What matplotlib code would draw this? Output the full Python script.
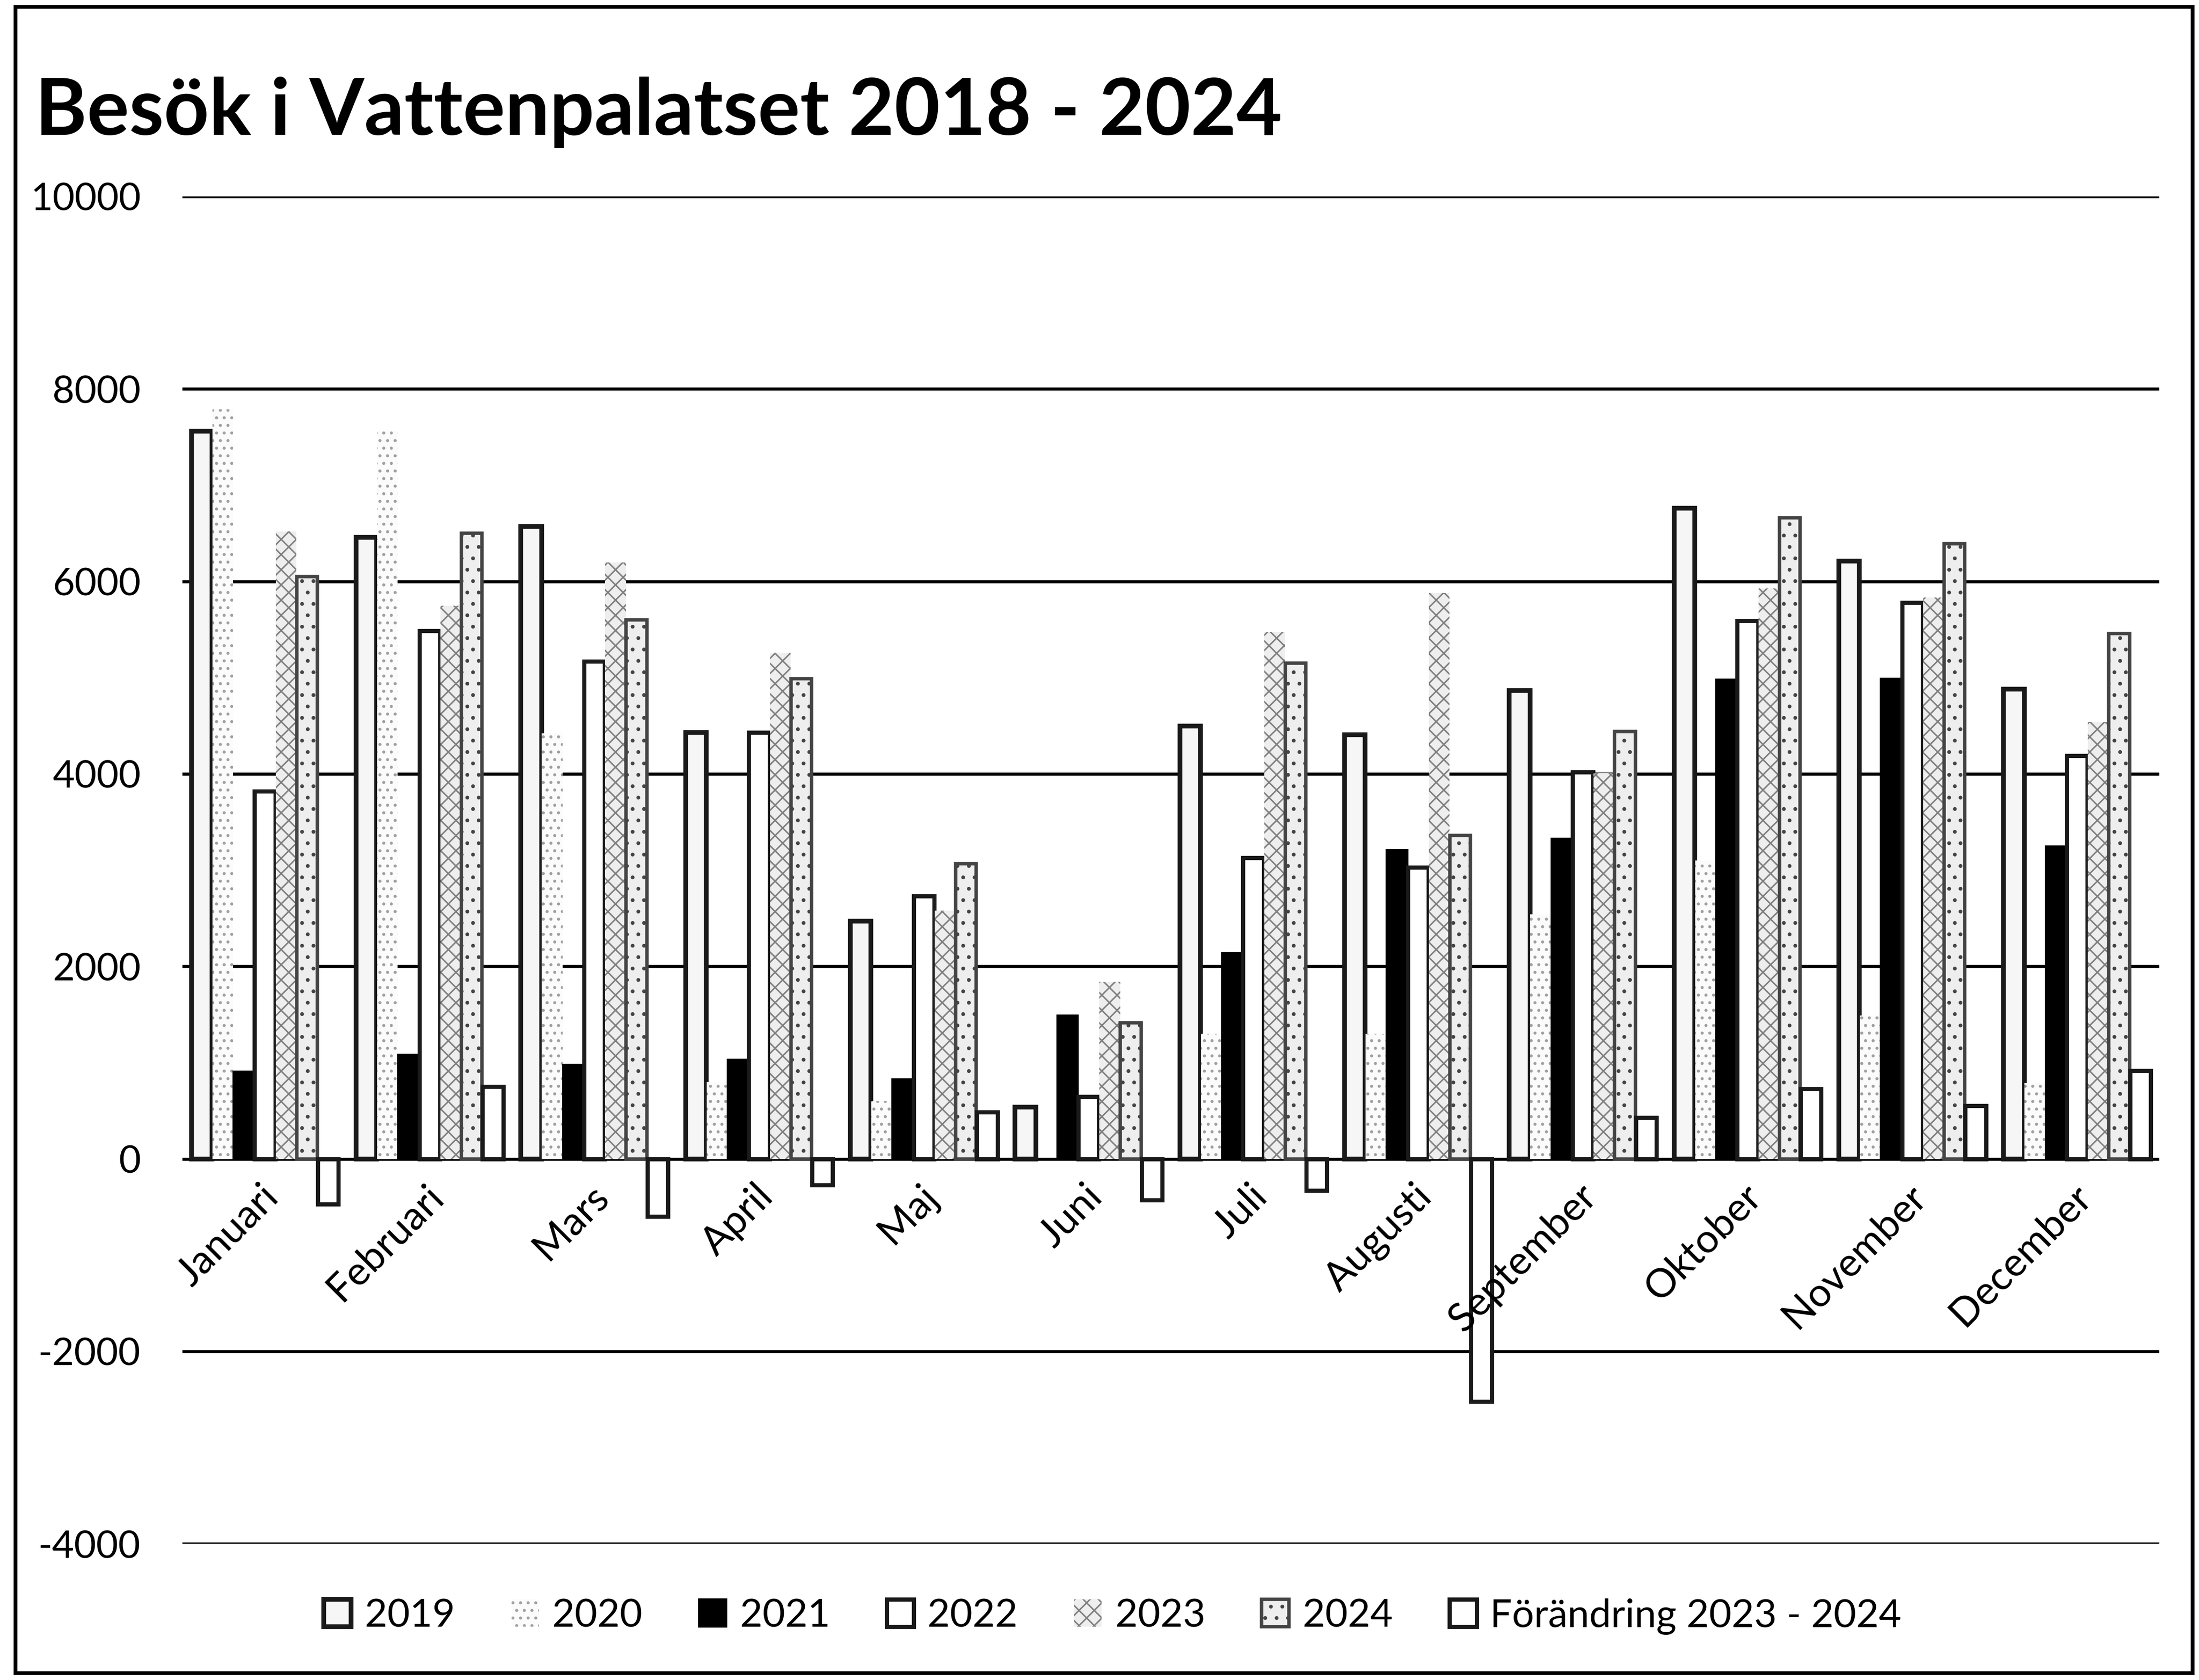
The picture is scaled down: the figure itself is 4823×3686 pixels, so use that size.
import numpy as np
import matplotlib.pyplot as plt
from matplotlib.patches import Rectangle

plt.rcParams['font.family'] = ['Lato', 'DejaVu Sans']
plt.rcParams['axes.unicode_minus'] = False

months = ['Januari', 'Februari', 'Mars', 'April', 'Maj', 'Juni', 'Juli',
          'Augusti', 'September', 'Oktober', 'November', 'December']

# visitors per month
v2019 = [7560, 6460, 6570, 4430, 2470, 540, 4500, 4410, 4865, 6760, 6210, 4880]
v2020 = [7790, 7560, 4420, 800, 600, 0, 1300, 1300, 2540, 3100, 1490, 790]
v2021 = [910, 1085, 980, 1030, 830, 1490, 2140, 3210, 3330, 4980, 4990, 3250]
v2022 = [3820, 5490, 5170, 4430, 2730, 650, 3130, 3030, 4020, 5590, 5780, 4190]
v2023 = [6520, 5750, 6200, 5260, 2580, 1840, 5475, 5880, 4010, 5930, 5835, 4540]
v2024 = [6050, 6500, 5600, 4990, 3070, 1415, 5150, 3360, 4440, 6660, 6390, 5460]
change = [-470, 750, -600, -270, 485, -425, -330, -2520, 430, 730, 555, 920]

series = [('2019', v2019), ('2020', v2020), ('2021', v2021), ('2022', v2022),
          ('2023', v2023), ('2024', v2024), ('Förändring 2023 - 2024', change)]

# grey-scale look of the scanned original
styles = [
    dict(facecolor='#f6f6f6', edgecolor='#1a1a1a', linewidth=2.5),
    dict(facecolor='#fbfbfb', edgecolor='#a0a0a0', linewidth=0, hatch='...'),
    dict(facecolor='black', edgecolor='black', linewidth=1),
    dict(facecolor='white', edgecolor='#1a1a1a', linewidth=2.2),
    dict(facecolor='#eeeeee', edgecolor='#808080', linewidth=0, hatch='xxx'),
    dict(facecolor='#eeeeee', edgecolor='#444444', linewidth=1.8, hatch='..'),
    dict(facecolor='white', edgecolor='#1a1a1a', linewidth=2.2),
]

plt.rcParams['hatch.linewidth'] = 0.8

fig = plt.figure(figsize=(16.077, 12.287), dpi=300)
ax = fig.add_axes([0.083, 0.081, 0.899, 0.802])

x = np.arange(len(months))
w = 0.128
for i, (name, vals) in enumerate(series):
    ax.bar(x + (i - 3) * w, vals, w * 0.98, label=name, zorder=2, **styles[i])

ax.set_xlim(-0.5, 11.5)
ax.set_ylim(-4000, 10000)
ax.set_yticks(np.arange(-4000, 10001, 2000))
ax.yaxis.grid(True, color='black', linewidth=1.6)
ax.set_axisbelow(True)
ax.tick_params(axis='y', length=0, pad=22, labelsize=20)

# month labels hang just below the zero line
ax.spines['bottom'].set_position(('data', 0))
for s in ['top', 'right', 'left', 'bottom']:
    ax.spines[s].set_visible(False)
ax.set_xticks(x - 0.03)
ax.set_xticklabels(months, rotation=45, ha='right', rotation_mode='anchor', fontsize=21)
ax.tick_params(axis='x', length=0, pad=10)
ax.xaxis.set_zorder(3)

fig.text(0.016, 0.933, 'Besök i Vattenpalatset 2018 - 2024', fontsize=41.5,
         fontweight='bold', va='center', ha='left')

fig.legend(loc='center', bbox_to_anchor=(0.506, 0.038), ncol=7, frameon=False,
           fontsize=20.5, handlelength=0.7, handleheight=0.7, handletextpad=0.35,
           columnspacing=1.45)

fig.patches.append(Rectangle((0.007, 0.004), 0.99, 0.992, transform=fig.transFigure,
                             fill=False, edgecolor='black', linewidth=2))

plt.savefig('out.png', dpi=300, facecolor='white')
